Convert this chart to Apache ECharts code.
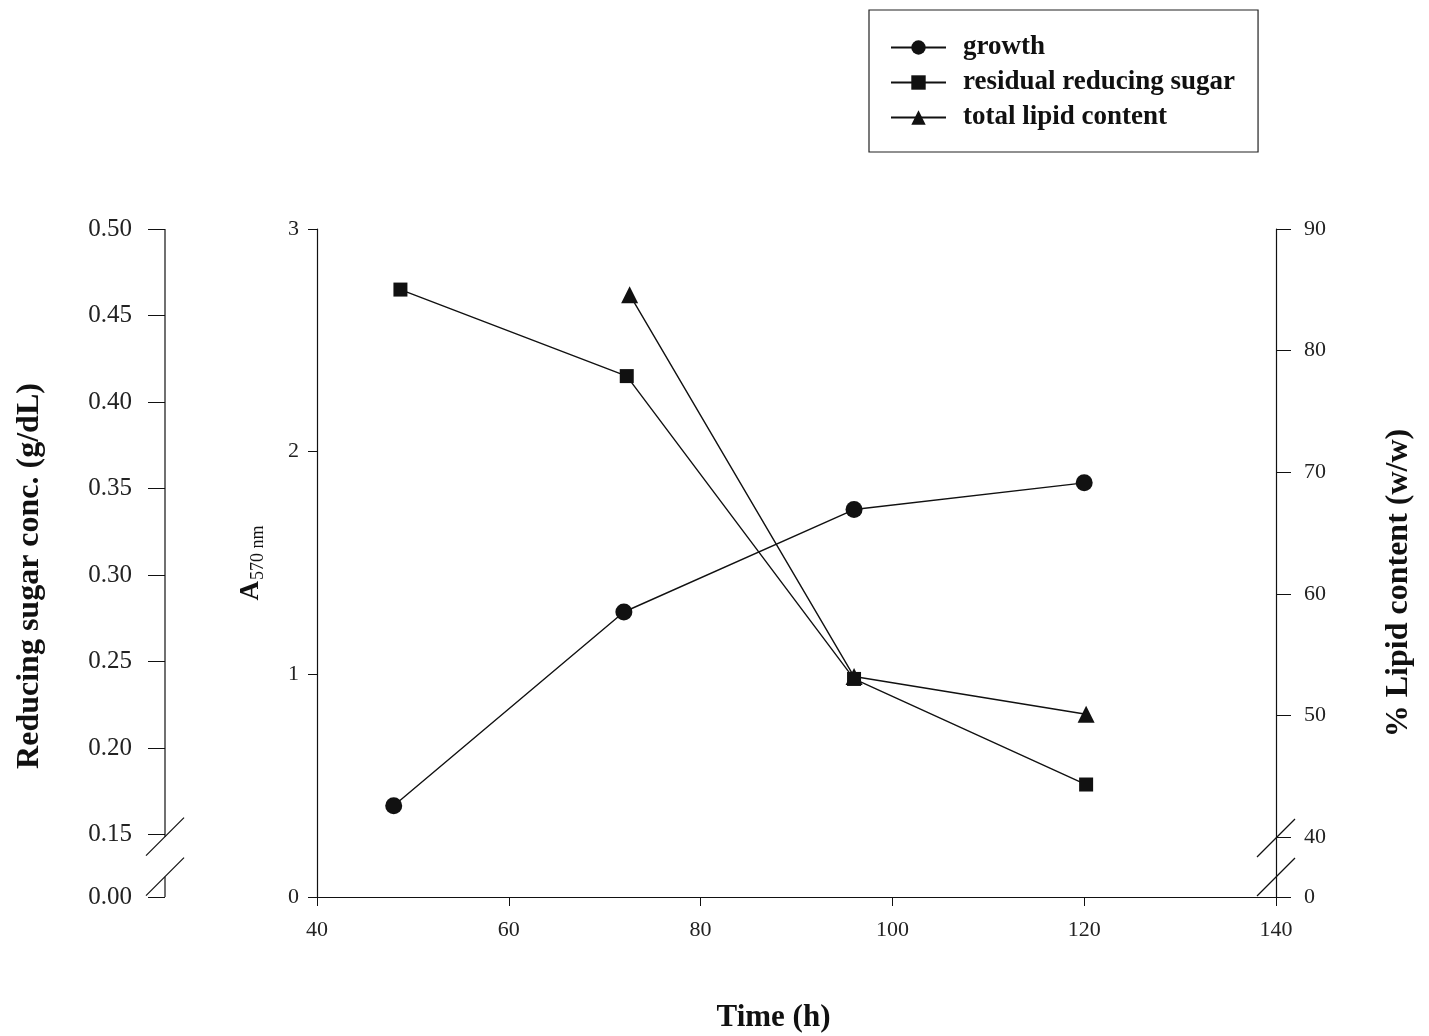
<!DOCTYPE html>
<html><head><meta charset="utf-8">
<script src="https://cdn.jsdelivr.net/npm/echarts@6/dist/echarts.min.js"></script>
<style>html,body{margin:0;padding:0;background:#fff}#c{width:1429px;height:1036px}</style>
</head><body><div id="c"></div>
<script>
// ---- data ----
const xTicks = [40, 60, 80, 100, 120, 140];
const growthTime = [48, 72, 96, 120];
const growthA570 = [0.41, 1.28, 1.74, 1.86];
const sugarTime = [48.7, 72.3, 96, 120.2];
const sugarConc = [0.465, 0.415, 0.240, 0.179];
const lipidTime = [72.6, 96, 120.2];
const lipidContent = [84.6, 53.2, 50.1];
const a570Ticks = [0, 1, 2, 3];
const sugarTicks = [0.15, 0.20, 0.25, 0.30, 0.35, 0.40, 0.45, 0.50];
const lipidTicks = [40, 50, 60, 70, 80, 90];
// broken axes: value shown as "0.00" / "0" sits at bottom of plot
const SUGAR_BREAK_LOW = 0.114;
const LIPID_BREAK_LOW = 35.07;

const FONT = "'Liberation Serif', 'DejaVu Serif', serif";
const INK = '#111';
const labelStyle = {fontFamily: FONT, fontSize: 22, color: '#222'};
const nameStyle = {fontFamily: FONT, fontSize: 32, fontWeight: 'bold', color: INK};

const chart = echarts.init(document.getElementById('c'), null, {renderer: 'canvas'});

const pairs = (xs, ys) => xs.map((x, i) => [x, ys[i]]);

const option = {
  backgroundColor: '#fff',
  animation: false,
  grid: {left: 317, right: 153, top: 229, bottom: 139, containLabel: false, outerBoundsMode: 'none'},
  legend: {
    orient: 'vertical',
    left: 869, top: 10,
    padding: [24, 23, 21, 21],
    borderColor: '#222', borderWidth: 1.2,
    itemWidth: 55, itemHeight: 18, itemGap: 8,
    textStyle: {fontFamily: FONT, fontSize: 27, lineHeight: 27, fontWeight: 'bold', color: INK, padding: [0, 0, 0, 12]},
    data: ['growth', 'residual reducing sugar', 'total lipid content']
  },
  xAxis: {
    type: 'value', min: xTicks[0], max: xTicks[xTicks.length - 1], interval: 20,
    name: 'Time (h)', nameLocation: 'middle', nameGap: 105,
    nameTextStyle: Object.assign({}, nameStyle, {fontSize: 31, padding: [0, 46, 0, 0]}),
    axisLine: {lineStyle: {color: INK, width: 1.2}},
    axisTick: {length: 9, lineStyle: {color: INK}},
    axisLabel: Object.assign({margin: 22}, labelStyle),
    splitLine: {show: false}
  },
  yAxis: [
    {
      type: 'value', min: a570Ticks[0], max: a570Ticks[a570Ticks.length - 1], interval: 1,
      position: 'left',
      name: '{a|A}{s|570 nm}', nameLocation: 'middle', nameRotate: 90, nameGap: 50,
      nameTextStyle: {
        rich: {
          a: {fontFamily: FONT, fontSize: 27, fontWeight: 'bold', color: INK},
          s: {fontFamily: FONT, fontSize: 18, color: INK, padding: [13, 0, 0, 1]}
        }
      },
      axisLine: {show: true, lineStyle: {color: INK, width: 1.2}},
      axisTick: {show: true, length: 9, lineStyle: {color: INK}},
      axisLabel: Object.assign({margin: 18}, labelStyle),
      splitLine: {show: false}
    },
    {
      type: 'value', min: SUGAR_BREAK_LOW, max: sugarTicks[sugarTicks.length - 1],
      position: 'left', offset: 152,
      name: 'Reducing sugar conc. (g/dL)', nameLocation: 'middle', nameRotate: 90, nameGap: 119,
      nameTextStyle: Object.assign({}, nameStyle, {padding: [0, 26, 0, 0]}),
      axisLine: {show: false},
      axisTick: {show: true, length: 17, lineStyle: {color: INK}, customValues: [SUGAR_BREAK_LOW].concat(sugarTicks)},
      axisLabel: Object.assign({}, labelStyle, {
        margin: 33, fontSize: 25,
        customValues: [SUGAR_BREAK_LOW].concat(sugarTicks),
        formatter: v => Math.abs(v - SUGAR_BREAK_LOW) < 1e-6 ? '0.00' : v.toFixed(2)
      }),
      splitLine: {show: false}
    },
    {
      type: 'value', min: LIPID_BREAK_LOW, max: lipidTicks[lipidTicks.length - 1],
      position: 'right',
      name: '% Lipid content (w/w)', nameLocation: 'middle', nameRotate: 90, nameGap: 107,
      nameTextStyle: Object.assign({}, nameStyle, {padding: [0, 40, 0, 0]}),
      axisLine: {show: true, lineStyle: {color: INK, width: 1.2}},
      axisTick: {show: true, length: 15, lineStyle: {color: INK}, customValues: [LIPID_BREAK_LOW].concat(lipidTicks)},
      axisLabel: Object.assign({}, labelStyle, {
        margin: 28,
        customValues: [LIPID_BREAK_LOW].concat(lipidTicks),
        formatter: v => Math.abs(v - LIPID_BREAK_LOW) < 1e-6 ? '0' : String(v)
      }),
      splitLine: {show: false}
    }
  ],
  series: [
    {
      name: 'growth', type: 'line', yAxisIndex: 0,
      data: pairs(growthTime, growthA570),
      symbol: 'circle', symbolSize: 17,
      lineStyle: {color: INK, width: 1.4}, itemStyle: {color: INK}
    },
    {
      name: 'residual reducing sugar', type: 'line', yAxisIndex: 1,
      data: pairs(sugarTime, sugarConc),
      symbol: 'rect', symbolSize: 14,
      lineStyle: {color: INK, width: 1.4}, itemStyle: {color: INK}
    },
    {
      name: 'total lipid content', type: 'line', yAxisIndex: 2,
      data: pairs(lipidTime, lipidContent),
      symbol: 'triangle', symbolSize: 17,
      lineStyle: {color: INK, width: 1.4}, itemStyle: {color: INK}
    }
  ]
};
chart.setOption(option);

// axis-break decorations, positioned through the axes' own scales
function decorate() {
  const xL = chart.convertToPixel({xAxisIndex: 0}, xTicks[0]) - 152;
  const xR = chart.convertToPixel({xAxisIndex: 0}, xTicks[xTicks.length - 1]);
  const yTopS = chart.convertToPixel({yAxisIndex: 1}, sugarTicks[sugarTicks.length - 1]);
  const y015 = chart.convertToPixel({yAxisIndex: 1}, sugarTicks[0]);
  const yBotS = chart.convertToPixel({yAxisIndex: 1}, SUGAR_BREAK_LOW);
  const y40 = chart.convertToPixel({yAxisIndex: 2}, lipidTicks[0]);
  const seg = (x1, y1, x2, y2) => ({type: 'line', silent: true,
    shape: {x1, y1, x2, y2}, style: {stroke: INK, lineWidth: 1.2}});
  const slash = (cx, cy) => seg(cx - 19, cy + 19, cx + 19, cy - 19);
  chart.setOption({graphic: [
    seg(xL, yTopS, xL, y015 + 2),
    seg(xL, y015 + 42, xL, yBotS),
    slash(xL, y015 + 2),
    slash(xL, y015 + 42),
    slash(xR, y40 + 1),
    slash(xR, y40 + 40)
  ]});
}
decorate();
</script>
</body></html>
